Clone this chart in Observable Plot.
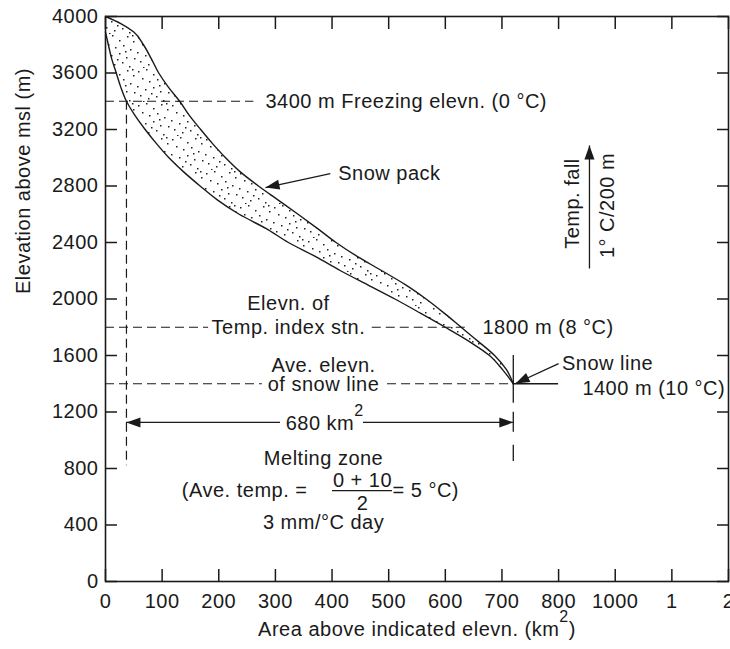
<!DOCTYPE html>
<html><head><meta charset="utf-8">
<script src="https://cdn.jsdelivr.net/npm/d3@7"></script>
<script src="https://cdn.jsdelivr.net/npm/@observablehq/plot@0.6"></script>
<style>body{margin:0;background:#fff}</style>
</head><body><div id="chart"></div>
<script>
// Snow-pack band: elevation (m) vs. area above (km²)
const elevations = [4000, 3950, 3890, 3800, 3700, 3600, 3500, 3400, 3300, 3200, 3100, 3000, 2900, 2800, 2700, 2600, 2500, 2400, 2300, 2200, 2100, 2000, 1900, 1800, 1700, 1600, 1500, 1400];
const upperArea  = [0, 27, 50, 67, 81, 94, 111, 131, 148, 168, 189, 212, 238, 270, 305, 340, 374, 407, 445, 488, 530, 566, 598, 628, 658, 687, 708, 720];
const lowerArea  = [0, 0, 0, 5, 11, 19, 27, 37, 52, 70, 90, 112, 138, 167, 198, 236, 283, 323, 371, 415, 463, 511, 556, 600, 642, 678, 701, 720];

const yTicks = [0, 400, 800, 1200, 1600, 2000, 2400, 2800, 3200, 3600, 4000];
const xTicks = [0, 100, 200, 300, 400, 500, 600, 700, 800, 900, 1000, 1100];
const xTickLabels = ["0", "100", "200", "300", "400", "500", "600", "700", "800", "1000", "1", "2"];

const xLabel = "Area above indicated elevn. (km²)";
const yLabel = "Elevation above msl (m)";

// guide lines
const dashedH = [
  {y: 3400, x1: 0, x2: 262},
  {y: 1800, x1: 0, x2: 182},
  {y: 1800, x1: 471, x2: 644},
  {y: 1400, x1: 0, x2: 277},
  {y: 1400, x1: 498, x2: 720}
];
const dashedV = [{x: 37, y1: 3400, y2: 820}];
const longDashV = [{x: 720, y1: 1262, y2: 850}];
const solidV = [{x: 720, y1: 1600, y2: 1262}];
const solidH = [
  {y: 1400, x1: 720, x2: 800},
  {y: 1126, x1: 37, x2: 309},
  {y: 1126, x1: 455.5, x2: 720},
  {y: 644, x1: 400.8, x2: 506.7}
];
const arrowShafts = [
  {x1: 397, y1: 2888, x2: 282.5, y2: 2789},
  {x1: 800, y1: 1543, x2: 724, y2: 1402},
  {x1: 854.5, y1: 2216, x2: 854.5, y2: 3087}
];
const arrowHeads = [
  {x: 282.5, y: 2789, angle: -102},
  {x: 724, y: 1402, angle: -115},
  {x: 37, y: 1126, angle: -90},
  {x: 720, y: 1126, angle: 90},
  {x: 854.5, y: 3087, angle: 0}
];

// annotations
const textsStart = [
  {x: 282.5, y: 3400, t: "3400 m Freezing elevn. (0 °C)"},
  {x: 411, y: 2888, t: "Snow pack"},
  {x: 665.6, y: 1800, t: "1800 m (8 °C)"},
  {x: 806, y: 1543, t: "Snow line"},
  {x: 842, y: 1366, t: "1400 m (10 °C)"},
  {x: 506.7, y: 644, t: "= 5 °C)"}
];
const textsMiddle = [
  {x: 323, y: 1968, t: "Elevn. of"},
  {x: 323, y: 1800, t: "Temp. index stn."},
  {x: 385, y: 1531, t: "Ave. elevn."},
  {x: 385, y: 1391, t: "of snow line"},
  {x: 387, y: 1119, t: "680 km²"},
  {x: 385, y: 871, t: "Melting zone"},
  {x: 453.7, y: 715, t: "0 + 10"},
  {x: 453.7, y: 552, t: "2"},
  {x: 385, y: 418, t: "3 mm/°C day"}
];
const textsEnd = [
  {x: 356.6, y: 644, t: "(Ave. temp. ="}
];
const textsRotated = [
  {x: 824.5, y: 2676, t: "Temp. fall"},
  {x: 886, y: 2662, t: "1° C/200 m"}
];

const band = elevations.map((e, i) => ({elev: e, lower: lowerArea[i], upper: upperArea[i]}));
const labelMap = new Map(xTicks.map((v, i) => [v, xTickLabels[i]]));
const ink = "#1a1a1a";
const triangle = {draw(ctx, l) { ctx.moveTo(0, 0); ctx.lineTo(-l * 0.36, l); ctx.lineTo(l * 0.36, l); ctx.closePath(); }};
const W = 730, H = 649, mT = 16, mB = 68, mL = 105, mR = 2, tickLen = 12;
const noText = () => "";

const plot = Plot.plot({
  width: W, height: H,
  marginTop: mT, marginBottom: mB, marginLeft: mL, marginRight: mR,
  x: {domain: [0, 1100]},
  y: {domain: [0, 4000]},
  style: {fontFamily: "'Liberation Sans', Arial, sans-serif", fontSize: "20px", letterSpacing: "0.5px", color: ink, background: "#fff"},
  marks: [
    Plot.areaX(band, {y: "elev", x1: "lower", x2: "upper", fill: "url(#stipple)", curve: "monotone-y"}),
    Plot.line(band, {x: "upper", y: "elev", stroke: ink, strokeWidth: 1.4, curve: "monotone-y"}),
    Plot.line(band.filter(d => d.elev <= 3890), {x: "lower", y: "elev", stroke: ink, strokeWidth: 1.4, curve: "monotone-y"}),
    Plot.ruleY(dashedH, {y: "y", x1: "x1", x2: "x2", stroke: ink, strokeWidth: 1.2, strokeDasharray: "9,5"}),
    Plot.ruleX(dashedV, {x: "x", y1: "y1", y2: "y2", stroke: ink, strokeWidth: 1.2, strokeDasharray: "9,5"}),
    Plot.ruleX(longDashV, {x: "x", y1: "y1", y2: "y2", stroke: ink, strokeWidth: 1.3, strokeDasharray: "0,9,20,13,20"}),
    Plot.ruleX(solidV, {x: "x", y1: "y1", y2: "y2", stroke: ink, strokeWidth: 1.3}),
    Plot.ruleY(solidH, {y: "y", x1: "x1", x2: "x2", stroke: ink, strokeWidth: 1.3}),
    Plot.link(arrowShafts, {x1: "x1", y1: "y1", x2: "x2", y2: "y2", stroke: ink, strokeWidth: 1.3}),
    Plot.vector(arrowHeads, {x: "x", y: "y", rotate: "angle", length: 14, shape: triangle, anchor: "start", fill: ink, stroke: "none"}),
    Plot.text(textsStart, {x: "x", y: "y", text: "t", textAnchor: "start", fill: ink}),
    Plot.text(textsMiddle, {x: "x", y: "y", text: "t", textAnchor: "middle", fill: ink}),
    Plot.text(textsEnd, {x: "x", y: "y", text: "t", textAnchor: "end", fill: ink}),
    Plot.text(textsRotated, {x: "x", y: "y", text: "t", rotate: -90, textAnchor: "middle", fill: ink}),
    Plot.text([xLabel], {frameAnchor: "bottom", dy: 54, fill: ink}),
    Plot.text([yLabel], {frameAnchor: "left", dx: -82, dy: -5, rotate: -90, fill: ink}),
    // inward ticks on all four sides: ordinary outward ticks shifted inside the frame
    Plot.axisY({anchor: "left", ticks: yTicks, tickSize: tickLen, dx: tickLen, tickFormat: noText, label: null, stroke: ink, strokeWidth: 1.5}),
    Plot.axisY({anchor: "right", ticks: yTicks, tickSize: tickLen, dx: -tickLen, tickFormat: noText, label: null, stroke: ink, strokeWidth: 1.5}),
    Plot.axisX({anchor: "top", ticks: xTicks, tickSize: tickLen, dy: tickLen, tickFormat: noText, label: null, stroke: ink, strokeWidth: 1.5}),
    Plot.axisX({anchor: "bottom", ticks: xTicks, tickSize: tickLen, dy: -tickLen, tickFormat: noText, label: null, stroke: ink, strokeWidth: 1.5}),
    Plot.axisY({ticks: yTicks, tickSize: 0, tickPadding: 7, tickFormat: "d", label: null}),
    Plot.axisX({anchor: "bottom", ticks: xTicks, tickSize: 0, tickPadding: 12, tickFormat: d => labelMap.get(d), label: null}),
    Plot.frame({stroke: ink, strokeWidth: 1.6})
  ]
});

// stipple pattern for the snow pack band
const svg = d3.select(plot);
const pat = svg.insert("defs", ":first-child").append("pattern")
  .attr("id", "stipple").attr("patternUnits", "userSpaceOnUse")
  .attr("width", 34).attr("height", 34);
const dots = [[2,3],[10,1],[17,6],[25,2],[31,7],[6,10],[13,13],[21,11],[28,15],[1,18],[9,21],[17,19],[24,23],[32,24],[4,27],[12,30],[20,28],[27,32],[15,25],[30,1],[7,33],[23,17]];
pat.selectAll("rect").data(dots).join("rect")
  .attr("x", d => d[0]).attr("y", d => d[1]).attr("width", 1.5).attr("height", 1.5).attr("fill", "#222");

// superscript "2" in km²
svg.selectAll("text").each(function() {
  const el = d3.select(this);
  if (!this.querySelector("tspan") && this.textContent.includes("²")) {
    const [a, b] = this.textContent.split("²");
    el.text(null);
    el.append("tspan").text(a);
    el.append("tspan").attr("font-size", "0.8em").attr("dy", "-0.85em").text("2");
    el.append("tspan").attr("dy", "0.68em").text(b);
  }
});

document.getElementById("chart").appendChild(plot);
</script>
</body></html>
